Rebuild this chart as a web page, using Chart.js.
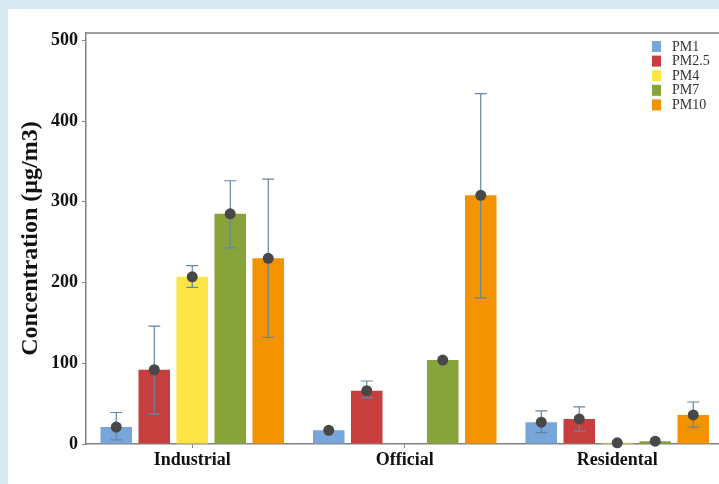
<!DOCTYPE html>
<html>
<head>
<meta charset="utf-8">
<script src="https://cdn.jsdelivr.net/npm/chart.js@4.4.0/dist/chart.umd.min.js"></script>
<style>
  html, body { margin: 0; padding: 0; overflow: hidden; background: #d7eaf1; width: 719px; height: 484px; }
  #wrap { position: absolute; left: 8px; top: 9px; width: 730px; height: 475px; background: #fff; }
</style>
</head>
<body>
<div id="wrap"><canvas id="chart" width="730" height="475"></canvas></div>
<script>
// categories and series (means with low / high error ends)
var categories = ['Industrial', 'Official', 'Residental'];
var seriesNames = ['PM1', 'PM2.5', 'PM4', 'PM7', 'PM10'];
var seriesColors = ['#79a6da', '#c73e3e', '#fde545', '#87a33a', '#f39300'];

var pm1 = [21, 17, 27];
var pm1Low = [5, null, 14];
var pm1High = [39, null, 41];

var pm25 = [92, 66, 31];
var pm25Low = [37, 57, 16];
var pm25High = [146, 78, 46];

var pm4 = [207, null, 1.5];
var pm4Low = [194, null, null];
var pm4High = [221, null, null];

var pm7 = [285, 104, 3.5];
var pm7Low = [243, null, null];
var pm7High = [326, null, null];

var pm10 = [230, 308, 36];
var pm10Low = [132, 181, 21];
var pm10High = [328, 434, 52];

var yTicks = [0, 100, 200, 300, 400, 500];

var values = [pm1, pm25, pm4, pm7, pm10];
var lows = [pm1Low, pm25Low, pm4Low, pm7Low, pm10Low];
var highs = [pm1High, pm25High, pm4High, pm7High, pm10High];

var serif = "'Liberation Serif', 'Times New Roman', serif";

// error bars + mean dots, plus top frame line
var errorPlugin = {
    id: 'errorDots',
    afterDatasetsDraw: function(chart) {
        var ctx = chart.ctx;
        var y = chart.scales.y;
        var area = chart.chartArea;
        ctx.save();
        ctx.strokeStyle = '#808080';
        ctx.lineWidth = 1.5;
        ctx.beginPath();
        ctx.moveTo(area.left, area.top);
        ctx.lineTo(area.right, area.top);
        ctx.stroke();

        chart.data.datasets.forEach(function(ds, di) {
            var meta = chart.getDatasetMeta(di);
            meta.data.forEach(function(bar, i) {
                var lo = lows[di][i], hi = highs[di][i];
                if (lo != null && hi != null) {
                    var yl = y.getPixelForValue(lo), yh = y.getPixelForValue(hi);
                    ctx.strokeStyle = '#6686a3';
                    ctx.lineWidth = 1.2;
                    ctx.beginPath();
                    ctx.moveTo(bar.x, yl); ctx.lineTo(bar.x, yh);
                    ctx.moveTo(bar.x - 6, yl); ctx.lineTo(bar.x + 6, yl);
                    ctx.moveTo(bar.x - 6, yh); ctx.lineTo(bar.x + 6, yh);
                    ctx.stroke();
                }
                var v = ds.data[i];
                if (v != null) {
                    ctx.fillStyle = '#484848';
                    ctx.beginPath();
                    ctx.arc(bar.x, y.getPixelForValue(v), 5.5, 0, Math.PI * 2);
                    ctx.fill();
                }
            });
        });
        ctx.restore();
    },
    afterDraw: function(chart) {
        // legend box top right
        var ctx = chart.ctx;
        var area = chart.chartArea;
        ctx.save();
        ctx.font = '14px ' + serif;
        ctx.textBaseline = 'middle';
        seriesNames.forEach(function(name, i) {
            var top = area.top + 8 + i * 14.6;
            ctx.fillStyle = seriesColors[i];
            ctx.fillRect(area.right - 71.5, top, 9, 11);
            ctx.fillStyle = '#333';
            ctx.fillText(name, area.right - 51.5, top + 6);
        });
        ctx.restore();
    }
};

new Chart(document.getElementById('chart'), {
    type: 'bar',
    data: {
        labels: categories,
        datasets: seriesNames.map(function(name, i) {
            return {
                label: name,
                data: values[i],
                backgroundColor: seriesColors[i],
                borderWidth: 0,
                categoryPercentage: 0.894,
                barPercentage: 0.83
            };
        })
    },
    options: {
        responsive: false,
        animation: false,
        layout: { padding: { top: 24, right: 14.5, bottom: 0, left: 0 } },
        plugins: { legend: { display: false }, tooltip: { enabled: false } },
        scales: {
            x: {
                grid: { display: true, drawOnChartArea: false, offset: false, tickLength: 4, color: '#808080' },
                border: { color: '#808080', width: 1.5 },
                ticks: { color: '#111', padding: 2, font: { family: serif, size: 18, weight: 'bold' } },
                afterFit: function(scale) { scale.height = 40; }
            },
            y: {
                min: 0,
                max: 509,
                afterBuildTicks: function(scale) {
                    scale.ticks = yTicks.map(function(v) { return { value: v }; });
                },
                grid: { display: true, drawOnChartArea: false, tickLength: 4, color: '#808080' },
                border: { color: '#808080', width: 1.5 },
                ticks: { color: '#111', padding: 4, font: { family: serif, size: 18, weight: 'bold' } },
                title: {
                    display: true,
                    text: 'Concentration (µg/m3)',
                    color: '#111',
                    padding: { top: 8, bottom: 0 },
                    font: { family: serif, size: 24, weight: 'bold' }
                },
                afterFit: function(scale) { scale.width = 78; }
            }
        }
    },
    plugins: [errorPlugin]
});
</script>
</body>
</html>
